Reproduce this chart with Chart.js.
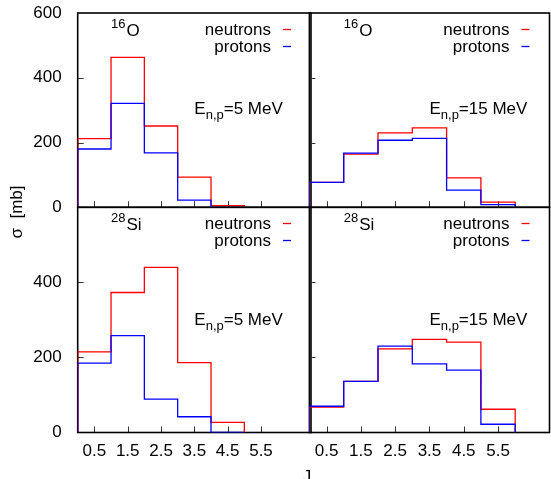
<!DOCTYPE html>
<html><head><meta charset="utf-8">
<script src="https://cdn.jsdelivr.net/npm/chart.js@4/dist/chart.umd.min.js"></script>
<style>
html,body{margin:0;padding:0;background:#fff;}
#wrap{position:relative;width:551px;height:479px;overflow:hidden;background:#fff;}
canvas{position:absolute;left:0;top:0;}
</style></head><body><div id="wrap">
<canvas id="c0" width="551" height="479"></canvas>
<canvas id="c1" width="551" height="479"></canvas>
<canvas id="c2" width="551" height="479"></canvas>
<canvas id="c3" width="551" height="479"></canvas>
</div>
<script>
// ---- data (cross sections in mb per J bin, bins start at J = 0,1,2,...) ----
const xTickValues = [0.5, 1.5, 2.5, 3.5, 4.5, 5.5];
const yTicksTop = [0, 200, 400, 600];
const yTicksBottom = [0, 200, 400];
const seriesNames = ['neutrons', 'protons'];
const xTitle = 'J';
const yTitle = 'σ  [mb]';

const O16_5MeV_neutrons  = [212, 463, 251, 93, 5];
const O16_5MeV_protons   = [180, 321, 168, 22, 0];
const O16_15MeV_neutrons = [77, 164, 230, 245, 91, 16];
const O16_15MeV_protons  = [77, 167, 207, 213, 53, 8];
const Si28_5MeV_neutrons  = [215, 373, 440, 186, 27];
const Si28_5MeV_protons   = [185, 258, 89, 42, 0];
const Si28_15MeV_neutrons = [68, 136, 223, 248, 241, 62];
const Si28_15MeV_protons  = [70, 136, 230, 183, 166, 22];

const FONT = '"Liberation Sans", Arial, sans-serif';

function stepPoints(vals) {
  const pts = [{x: 0, y: 0}];
  vals.forEach((v, i) => pts.push({x: i, y: v}));
  pts.push({x: vals.length, y: 0});
  return pts;
}

const panels = [
  {id: 'c0', rect: [77.7, 13, 311, 207.3], mass: '16', sym: 'O', energy: '5 MeV', n: O16_5MeV_neutrons, p: O16_5MeV_protons, left: true, bottom: false, yTicks: yTicksTop},
  {id: 'c1', rect: [309.4, 13, 549.5, 207.3], mass: '16', sym: 'O', energy: '15 MeV', n: O16_15MeV_neutrons, p: O16_15MeV_protons, left: false, bottom: false, yTicks: yTicksTop},
  {id: 'c2', rect: [77.7, 207.3, 311, 432.5], mass: '28', sym: 'Si', energy: '5 MeV', n: Si28_5MeV_neutrons, p: Si28_5MeV_protons, left: true, bottom: true, yTicks: yTicksBottom, titles: true},
  {id: 'c3', rect: [309.4, 207.3, 549.5, 432.5], mass: '28', sym: 'Si', energy: '15 MeV', n: Si28_15MeV_neutrons, p: Si28_15MeV_protons, left: false, bottom: true, yTicks: yTicksBottom}
];

const panelPlugin = {
  id: 'panel',
  beforeDatasetsDraw(chart, args, opts) {
    const ctx = chart.ctx, a = chart.chartArea, x = chart.scales.x, y = chart.scales.y;
    ctx.save();
    ctx.strokeStyle = '#333'; ctx.lineWidth = 1;
    ctx.beginPath();
    for (const t of xTickValues) {
      const px = Math.round(x.getPixelForValue(t)) + 0.5;
      ctx.moveTo(px, a.bottom); ctx.lineTo(px, a.bottom - 6);
    }
    for (const t of opts.yTicks) {
      if (t <= 0 || t >= 600) continue;
      const py = Math.round(y.getPixelForValue(t)) + 0.5;
      ctx.moveTo(a.left, py); ctx.lineTo(a.left + 6, py);
    }
    ctx.stroke();
    ctx.strokeStyle = '#000'; ctx.lineWidth = 1.6;
    ctx.strokeRect(a.left, a.top, a.right - a.left, a.bottom - a.top);
    ctx.restore();
  },
  afterDraw(chart, args, opts) {
    const ctx = chart.ctx, a = chart.chartArea, x = chart.scales.x, y = chart.scales.y;
    ctx.save();
    ctx.fillStyle = '#000';
    ctx.textBaseline = 'alphabetic';
    // nucleus label
    let px = x.getPixelForValue(1.0);
    const base = a.top + 23;
    ctx.textAlign = 'left';
    ctx.font = '13px ' + FONT;
    ctx.fillText(opts.mass, px, base - 8);
    px += ctx.measureText(opts.mass).width + 1;
    ctx.font = '17px ' + FONT;
    ctx.fillText(opts.sym, px, base);
    // energy label
    let ex = x.getPixelForValue(3.5);
    const ey = y.getPixelForValue(290) + 1;
    ctx.font = '17px ' + FONT;
    ctx.fillText('E', ex, ey);
    ex += ctx.measureText('E').width;
    ctx.font = '13px ' + FONT;
    ctx.fillText('n,p', ex, ey + 5);
    ex += ctx.measureText('n,p').width;
    ctx.font = '17px ' + FONT;
    ctx.fillText('=' + opts.energy, ex, ey);
    // legend
    ctx.textAlign = 'right';
    const colors = ['#ff0000', '#0000ff'];
    seriesNames.forEach((nm, i) => {
      const b = a.top + 22 + i * 16.5;
      ctx.fillStyle = '#000';
      ctx.fillText(nm, a.right - 40, b);
      ctx.strokeStyle = colors[i]; ctx.lineWidth = 1.3;
      ctx.beginPath();
      const ly = Math.round(b - 6) + 0.5;
      ctx.moveTo(a.right - 28, ly); ctx.lineTo(a.right - 20, ly);
      ctx.stroke();
    });
    // axis titles
    if (opts.titles) {
      ctx.fillStyle = '#000';
      ctx.font = '17px ' + FONT;
      ctx.textAlign = 'center';
      ctx.textBaseline = 'middle';
      ctx.save();
      ctx.translate(17, 212);
      ctx.rotate(-Math.PI / 2);
      ctx.fillText(yTitle, 0, 0);
      ctx.restore();
      ctx.textBaseline = 'alphabetic';
      ctx.fillText(xTitle, 307, 482);
    }
    ctx.restore();
  }
};

panels.forEach(P => {
  const [L, T, R, B] = P.rect;
  const yW = P.left ? L : 0;
  const xH = P.bottom ? 479 - B : 0;
  new Chart(document.getElementById(P.id), {
    type: 'line',
    data: {
      datasets: [
        {label: seriesNames[0], data: stepPoints(P.n), borderColor: '#ff0000', borderWidth: 1.3, stepped: 'before', pointRadius: 0, fill: false, order: 2},
        {label: seriesNames[1], data: stepPoints(P.p), borderColor: '#0000ff', borderWidth: 1.3, stepped: 'before', pointRadius: 0, fill: false, order: 1}
      ]
    },
    options: {
      responsive: false,
      animation: false,
      devicePixelRatio: 1,
      layout: {padding: {left: L - yW, top: T, right: 551 - R, bottom: 479 - B - xH}},
      plugins: {
        legend: {display: false},
        tooltip: {enabled: false},
        panel: {mass: P.mass, sym: P.sym, energy: P.energy, yTicks: P.yTicks, titles: !!P.titles}
      },
      scales: {
        x: {
          type: 'linear', min: 0, max: 7,
          grid: {display: false}, border: {display: false},
          afterBuildTicks: s => { s.ticks = xTickValues.map(v => ({value: v})); },
          afterFit: s => { s.height = xH; s.paddingLeft = 0; s.paddingRight = 0; },
          ticks: {display: P.bottom, autoSkip: false, maxRotation: 0, padding: 1, color: '#000',
                  font: {family: FONT, size: 17}, callback: v => Number(v).toFixed(1)}
        },
        y: {
          type: 'linear', min: 0, max: 600,
          grid: {display: false}, border: {display: false},
          afterBuildTicks: s => { s.ticks = P.yTicks.map(v => ({value: v})); },
          afterFit: s => { s.width = yW; s.paddingTop = 0; s.paddingBottom = 0; },
          ticks: {display: P.left, autoSkip: false, padding: 8, color: '#000',
                  font: {family: FONT, size: 17}, callback: v => String(v)}
        }
      }
    },
    plugins: [panelPlugin]
  });
});
</script>
</body></html>
